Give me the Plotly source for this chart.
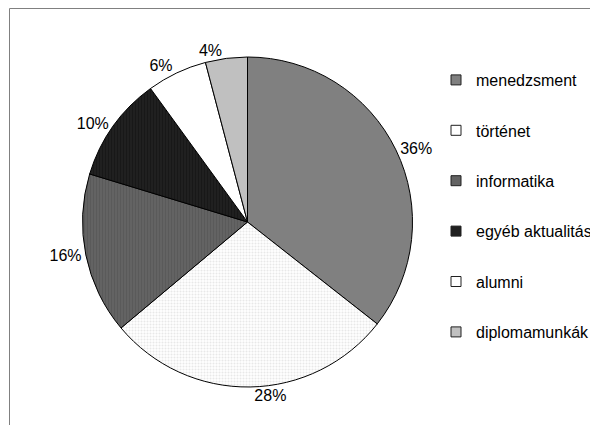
import plotly.graph_objects as go

categories = ["menedzsment", "történet", "informatika", "egyéb aktualitás", "alumni", "diplomamunkák"]
values = [35.6, 28.3, 15.8, 10.3, 5.9, 4.1]
colors = ["#808080", "#ffffff", "#636363", "#202020", "#ffffff", "#c0c0c0"]
patterns = ["", ".", "|", "|", "", ""]
pattern_fg = ["#808080", "#e8e8e8", "#5a5a5a", "#181818", "#ffffff", "#c0c0c0"]

W, H = 598, 425
OFF = 8  # the page body adds an 8px margin around the figure
FONT = "Liberation Sans, Arial, sans-serif"

# pie box in screen pixels of the reference, shifted into figure pixels
px0, px1, py0, py1 = 81.5 - OFF, 413.5 - OFF, 57 - OFF, 387 - OFF
domain = dict(x=[px0 / W, px1 / W], y=[1 - py1 / H, 1 - py0 / H])

# the last (smallest) slice label is drawn by an overlay pie so that plotly
# does not push it away from its neighbour with a connector line
main_pos = ["outside"] * (len(categories) - 1) + ["none"]
over_pos = ["none"] * (len(categories) - 1) + ["outside"]

fig = go.Figure()
fig.add_trace(go.Pie(
    labels=categories,
    values=values,
    sort=False,
    direction="clockwise",
    rotation=0,
    textposition=main_pos,
    texttemplate="%{percent:.0%}",
    textfont=dict(family=FONT, size=16, color="black"),
    marker=dict(
        colors=colors,
        line=dict(color="black", width=1),
        pattern=dict(shape=patterns, fgcolor=pattern_fg, bgcolor=colors, size=3, solidity=0.35),
    ),
    domain=domain,
    showlegend=False,
    hoverinfo="label+percent",
))
fig.add_trace(go.Pie(
    labels=categories,
    values=values,
    sort=False,
    direction="clockwise",
    rotation=0,
    textposition=over_pos,
    texttemplate="%{percent:.0%}",
    textfont=dict(family=FONT, size=16, color="black"),
    marker=dict(colors=["rgba(0,0,0,0)"] * len(categories), line=dict(width=0)),
    domain=domain,
    showlegend=False,
    hoverinfo="skip",
))

for cat, col in zip(categories, colors):
    fig.add_trace(go.Scatter(
        x=[None], y=[None], mode="markers", name=cat, legendgroup=cat,
        marker=dict(symbol="square", size=10, color=col, line=dict(color="#202020", width=1)),
        showlegend=True,
    ))

fig.update_layout(
    width=W, height=H,
    margin=dict(l=0, r=0, t=0, b=0),
    paper_bgcolor="white", plot_bgcolor="white",
    font=dict(family=FONT, size=16, color="black"),
    xaxis=dict(visible=False), yaxis=dict(visible=False),
    showlegend=True,
    legend=dict(
        x=428 / W, xanchor="left", y=1 - 55 / H, yanchor="top",
        font=dict(family=FONT, size=16, color="black"),
        tracegroupgap=26.6, bgcolor="rgba(0,0,0,0)",
        itemclick=False,
    ),
    shapes=[dict(type="rect", xref="paper", yref="paper",
                 x0=1.5 / W, x1=1.05, y0=-0.05, y1=1 - 0.5 / H,
                 line=dict(color="#808080", width=1))],
)

fig.write_html("out.html")
